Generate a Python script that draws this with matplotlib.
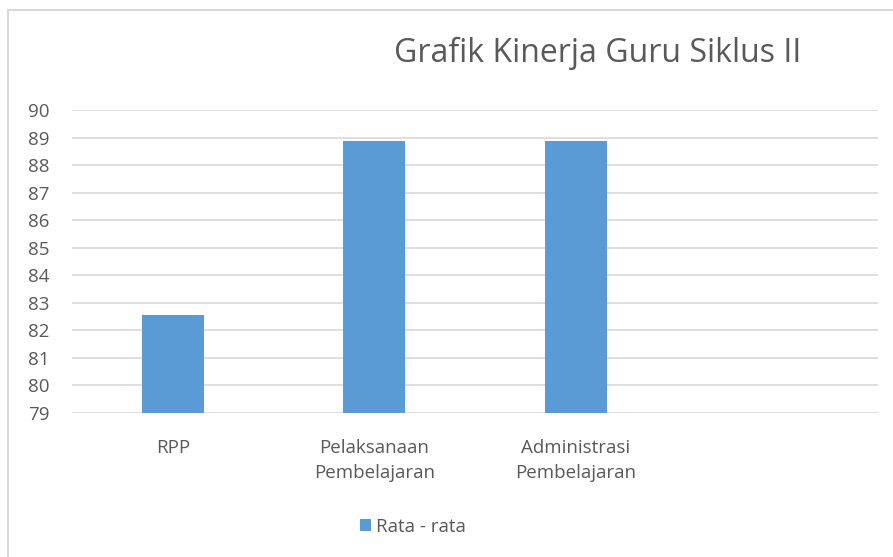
import matplotlib
matplotlib.use("Agg")
import matplotlib.pyplot as plt
from matplotlib.patches import Rectangle
import numpy as np

# ---------- DATA ----------
categories = ["RPP", "Pelaksanaan\nPembelajaran", "Administrasi\nPembelajaran", ""]
rata_rata = [82.55, 88.87, 88.87, np.nan]
y_ticks = list(range(79, 91))
title = "Grafik Kinerja Guru Siklus II"
legend_label = "Rata - rata"

# ---------- STYLE ----------
plt.rcParams["font.family"] = ["Open Sans", "DejaVu Sans"]
bar_color = "#5B9BD5"
text_color = "#595959"
grid_color = "#D9D9D9"

fig = plt.figure(figsize=(8.93, 5.57), dpi=100)
ax = fig.add_axes([72 / 893, 1 - 413 / 557, (878 - 72) / 893, (413 - 110) / 557])

x = np.arange(len(categories))
ax.bar(x, rata_rata, width=0.31, bottom=0, color=bar_color, label=legend_label, zorder=3)

ax.set_xlim(-0.5, len(categories) - 0.5)
ax.set_ylim(79, 90)
ax.set_yticks(y_ticks)
ax.set_xticks(x)
ax.set_xticklabels(categories, linespacing=1.5)
ax.tick_params(axis="both", length=0, colors=text_color, labelsize=13.5)
ax.tick_params(axis="x", pad=19)
ax.tick_params(axis="y", pad=16)
ax.grid(axis="y", color=grid_color, linewidth=1.2, zorder=0)
for s in ax.spines.values():
    s.set_visible(False)

fig.text(598 / 893, 1 - 53 / 557, title, ha="center", va="center",
         fontsize=23, color=text_color)

fig.legend(loc="center", bbox_to_anchor=(413 / 893, 1 - 527 / 557), frameon=False,
           fontsize=13.5, labelcolor=text_color, handlelength=0.6, handleheight=0.6,
           handletextpad=0.3)

# chart border
fig.add_artist(Rectangle((8 / 893, -0.1), 1.2, 1 - 10 / 557 + 0.1, transform=fig.transFigure,
                         fill=False, edgecolor="#D9D9D9", linewidth=1.5))

fig.savefig("out.png", dpi=100)
